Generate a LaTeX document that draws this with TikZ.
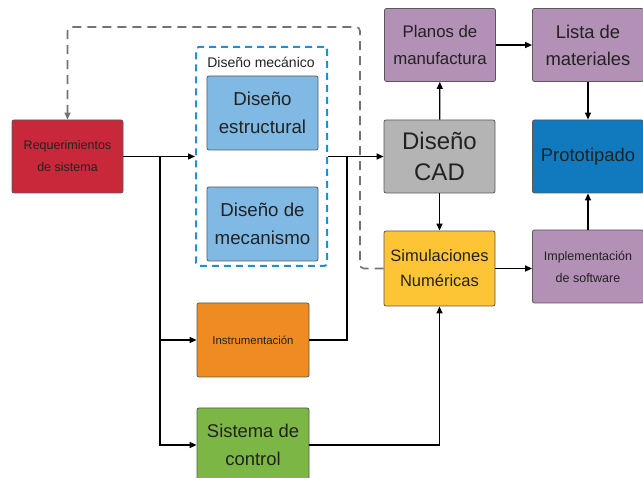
\documentclass[tikz,border=0pt]{standalone}
\usepackage{fontspec}
\setmainfont{Liberation Sans}
\usetikzlibrary{arrows.meta}

\definecolor{reqred}{HTML}{C9283A}
\definecolor{mecblue}{HTML}{80B9E4}
\definecolor{instorange}{HTML}{EE8B23}
\definecolor{ctrlgreen}{HTML}{7CB645}
\definecolor{cadgray}{HTML}{B4B4B4}
\definecolor{mauve}{HTML}{B390B6}
\definecolor{protoblue}{HTML}{1179BE}
\definecolor{simyellow}{HTML}{FDC535}
\definecolor{dashblue}{HTML}{2290D0}
\definecolor{txt}{HTML}{222222}

\begin{document}
\begin{tikzpicture}[x=1pt,y=-1pt,
  box/.style={draw=black!65, line width=0.8pt, rounded corners=2pt,
    minimum width=111pt, minimum height=73pt, align=center,
    inner sep=2pt, text=txt},
  flow/.style={-{Triangle[length=7pt,width=6pt]}, line width=1.3pt},
  link/.style={line width=1.3pt},
  feedback/.style={-{Triangle[length=7pt,width=6pt]}, draw=black!55,
    line width=1.6pt, dash pattern=on 9pt off 6pt, rounded corners=4pt}]
  \useasboundingbox (0,0) rectangle (643,478);

  \node[draw=dashblue, line width=2pt, dash pattern=on 7pt off 5pt,
    rounded corners=3pt, minimum width=131pt, minimum height=219pt]
    (mec) at (261.5,156.5) {};
  \node[text=txt, font=\fontsize{14}{16}\selectfont] (meclabel) at (261,62) {Diseño mecánico};

  \node[box, fill=reqred, font=\fontsize{12.5}{22}\selectfont] (req) at (67.5,156.5) {Requerimientos\\de sistema};
  \node[box, fill=mecblue, minimum height=74pt, font=\fontsize{18.7}{28}\selectfont] (estr) at (262.5,113) {Diseño\\estructural};
  \node[box, fill=mecblue, minimum height=74pt, font=\fontsize{18.7}{28}\selectfont] (meca) at (262.5,224) {Diseño de\\mecanismo};
  \node[box, fill=instorange, minimum width=112pt, minimum height=74pt, font=\fontsize{11.4}{13}\selectfont] (instr) at (253,340) {Instrumentación};
  \node[box, fill=ctrlgreen, minimum width=112pt, minimum height=74pt, font=\fontsize{18.4}{28}\selectfont] (control) at (253,445) {Sistema de\\control};
  \node[box, fill=cadgray, font=\fontsize{24}{31}\selectfont] (cad) at (439.5,156.5) {Diseño\\CAD};
  \node[box, fill=mauve, font=\fontsize{16.8}{27}\selectfont] (planos) at (440,45) {Planos de\\manufactura};
  \node[box, fill=mauve, font=\fontsize{18.4}{27}\selectfont] (lista) at (588,45) {Lista de\\materiales};
  \node[box, fill=protoblue, font=\fontsize{18.4}{20}\selectfont] (proto) at (588,156.5) {Prototipado};
  \node[box, fill=simyellow, minimum height=75pt, font=\fontsize{16.5}{25}\selectfont] (sim) at (439.5,268.5) {Simulaciones\\Numéricas};
  \node[box, fill=mauve, font=\fontsize{12.5}{22}\selectfont] (impl) at (588,266.5) {Implementación\\de software};

  \coordinate (split) at (160,156.5);
  \coordinate (join) at (347,156.5);
  \coordinate (loop) at (360,27);

  \draw[flow] (req) -- (mec);
  \draw[flow] (split) |- (instr);
  \draw[flow] (split) |- (control);
  \draw[flow] (mec) -- (cad);
  \draw[link] (instr) -| (join);
  \draw[flow] (control) -| (sim);
  \draw[flow] (cad) -- (planos);
  \draw[flow] (cad) -- (sim);
  \draw[flow] (planos) -- (lista);
  \draw[flow] (lista) -- (proto);
  \draw[flow] (impl) -- (proto);
  \draw[flow] (sim.east) -- (sim.east -| impl.west);
  \draw[feedback] (sim.west) -| (loop) -| (req.north);
\end{tikzpicture}
\end{document}
